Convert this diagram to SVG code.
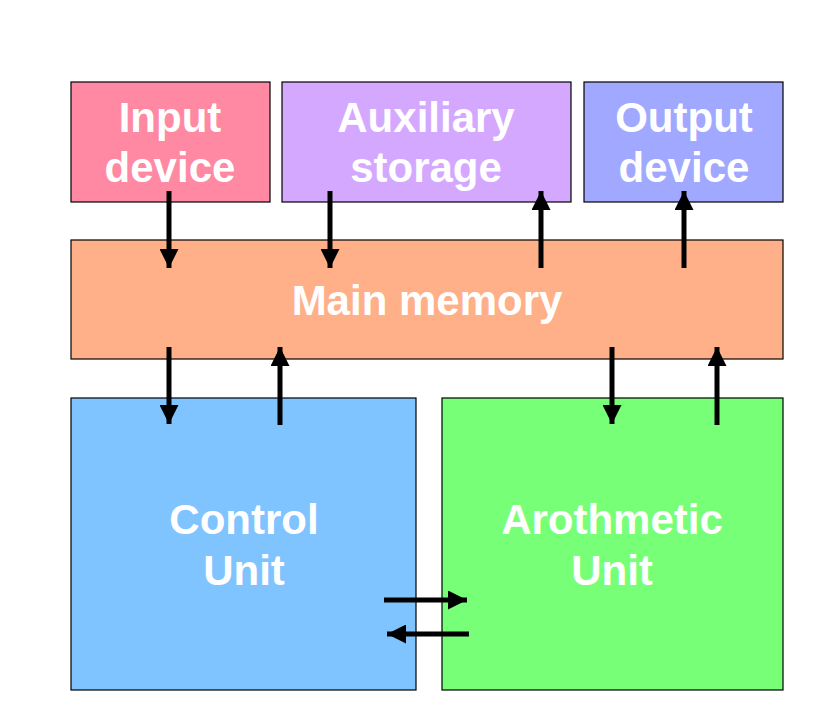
<svg xmlns="http://www.w3.org/2000/svg" width="833" height="720" viewBox="0 0 833 720">
<style>
.box{stroke:#000;stroke-width:1.2}
.t{font-family:"Liberation Sans",Arial,sans-serif;font-weight:bold;font-size:42px;fill:#fff;text-anchor:middle}
.c line{stroke:#000;stroke-width:5}
</style>
<defs>
<marker id="ah" viewBox="0 0 10 10" refX="10" refY="5" markerWidth="3.8" markerHeight="3.8" markerUnits="strokeWidth" orient="auto">
<path d="M0,0 L10,5 L0,10 Z" fill="#000"/>
</marker>
</defs>
<rect width="833" height="720" fill="#fff"/>
<g id="input"><rect class="box" x="71" y="82" width="199" height="120" fill="#FF88A2"/><text class="t" x="170" y="132">Input</text><text class="t" x="170" y="182">device</text></g>
<g id="aux"><rect class="box" x="282" y="82" width="289" height="120" fill="#D4A8FF"/><text class="t" x="426" y="132">Auxiliary</text><text class="t" x="426" y="182">storage</text></g>
<g id="output"><rect class="box" x="584" y="82" width="199" height="120" fill="#A0A8FF"/><text class="t" x="684" y="132">Output</text><text class="t" x="684" y="182">device</text></g>
<g id="memory"><rect class="box" x="71" y="240" width="712" height="119" fill="#FFB088"/><text class="t" x="427" y="315">Main memory</text></g>
<g id="control"><rect class="box" x="71" y="398" width="345" height="292" fill="#80C4FF"/><text class="t" x="244" y="534">Control</text><text class="t" x="244" y="585">Unit</text></g>
<g id="arith"><rect class="box" x="442" y="398" width="341" height="292" fill="#78FF78"/><text class="t" x="612" y="534">Arothmetic</text><text class="t" x="612" y="585">Unit</text></g>
<g class="c" id="connectors">
<line x1="169" y1="191" x2="169" y2="268" marker-end="url(#ah)"/>
<line x1="330" y1="191" x2="330" y2="268" marker-end="url(#ah)"/>
<line x1="541" y1="268" x2="541" y2="191" marker-end="url(#ah)"/>
<line x1="684" y1="268" x2="684" y2="191" marker-end="url(#ah)"/>
<line x1="169" y1="347" x2="169" y2="424" marker-end="url(#ah)"/>
<line x1="280" y1="425" x2="280" y2="347" marker-end="url(#ah)"/>
<line x1="612" y1="347" x2="612" y2="424" marker-end="url(#ah)"/>
<line x1="717" y1="425" x2="717" y2="347" marker-end="url(#ah)"/>
<line x1="384" y1="600" x2="467" y2="600" marker-end="url(#ah)"/>
<line x1="469" y1="634" x2="387" y2="634" marker-end="url(#ah)"/>
</g>
</svg>
